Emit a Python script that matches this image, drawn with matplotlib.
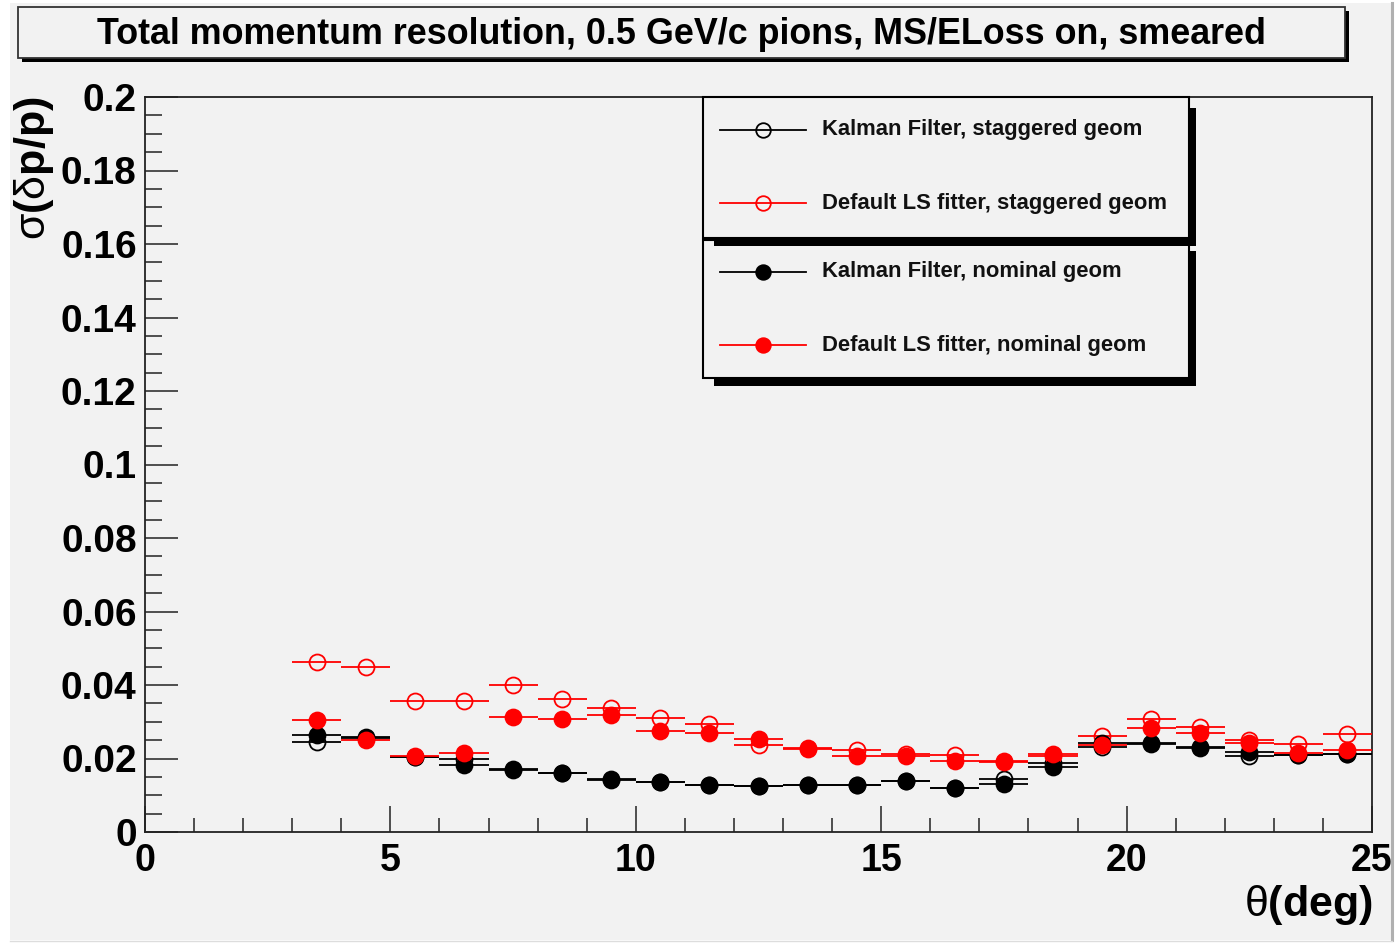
import matplotlib
matplotlib.use('Agg')
import matplotlib.pyplot as plt
from matplotlib.patches import Rectangle
from matplotlib.lines import Line2D
from matplotlib.ticker import MultipleLocator, FuncFormatter

# ---------------- data ----------------
theta_deg = [3.5, 4.5, 5.5, 6.5, 7.5, 8.5, 9.5, 10.5, 11.5, 12.5, 13.5,
             14.5, 15.5, 16.5, 17.5, 18.5, 19.5, 20.5, 21.5, 22.5, 23.5, 24.5]
bin_halfwidth = 0.5

kf_staggered = [0.0246, 0.0255, 0.0205, 0.0198, 0.0172, 0.0160, 0.0143, 0.0137,
                0.0128, 0.0125, 0.0127, 0.0128, 0.0139, 0.0119, 0.0144, 0.0189,
                0.0232, 0.0240, 0.0228, 0.0207, 0.0210, 0.0212]
ls_staggered = [0.0463, 0.0448, 0.0356, 0.0356, 0.0400, 0.0361, 0.0337, 0.0309,
                0.0294, 0.0237, 0.0225, 0.0223, 0.0212, 0.0209, 0.0192, 0.0206,
                0.0261, 0.0307, 0.0286, 0.0250, 0.0239, 0.0267]
kf_nominal = [0.0264, 0.0259, 0.0205, 0.0182, 0.0169, 0.0160, 0.0141, 0.0137,
              0.0128, 0.0125, 0.0128, 0.0128, 0.0139, 0.0119, 0.0130, 0.0178,
              0.0242, 0.0242, 0.0231, 0.0218, 0.0210, 0.0212]
ls_nominal = [0.0305, 0.0250, 0.0207, 0.0216, 0.0312, 0.0307, 0.0318, 0.0276,
              0.0269, 0.0252, 0.0228, 0.0207, 0.0207, 0.0194, 0.0191, 0.0212,
              0.0237, 0.0283, 0.0270, 0.0242, 0.0216, 0.0223]

series_labels = ["Kalman Filter, staggered geom",
                 "Default LS fitter, staggered geom",
                 "Kalman Filter, nominal geom",
                 "Default LS fitter, nominal geom"]

title_text = "Total momentum resolution, 0.5 GeV/c pions, MS/ELoss on, smeared"
x_ticks = [0, 5, 10, 15, 20, 25]
y_ticks = [0, 0.02, 0.04, 0.06, 0.08, 0.1, 0.12, 0.14, 0.16, 0.18, 0.2]

# ---------------- style ----------------
plt.rcParams['font.family'] = ['Liberation Sans', 'DejaVu Sans']
plt.rcParams['font.weight'] = 'bold'
plt.rcParams['mathtext.fontset'] = 'custom'
plt.rcParams['mathtext.rm'] = 'Liberation Sans:weight=normal'
plt.rcParams['mathtext.bf'] = 'Liberation Sans:weight=bold'

W, H = 1397, 943
BG = '#f2f2f2'


def fx(x):
    return x / W


def fy(y):
    return 1 - y / H


fig = plt.figure(figsize=(W / 100, H / 100), dpi=100, facecolor='white')

# canvas panel
fig.add_artist(Rectangle((fx(10), fy(940)), fx(1391) - fx(10), fy(3) - fy(940),
                         transform=fig.transFigure, facecolor=BG,
                         edgecolor='none', zorder=-2))
fig.add_artist(Line2D([fx(1392), fx(1392)], [fy(3), fy(940)],
                      transform=fig.transFigure, color='#b0b0b0', lw=2.2, zorder=-1))
fig.add_artist(Line2D([fx(10), fx(1392)], [fy(940.5), fy(940.5)],
                      transform=fig.transFigure, color='#dddddd', lw=1.0, zorder=-1))

ax = fig.add_axes([fx(145), fy(832), fx(1372) - fx(145), fy(97) - fy(832)])
ax.set_facecolor(BG)
ax.set_xlim(0, 25)
ax.set_ylim(0, 0.2)
for sp in ax.spines.values():
    sp.set_linewidth(1.3)
    sp.set_color('#222222')

ax.set_xticks(x_ticks)
ax.set_yticks(y_ticks)
ax.xaxis.set_minor_locator(MultipleLocator(1))
ax.yaxis.set_minor_locator(MultipleLocator(0.005))
ax.yaxis.set_major_formatter(FuncFormatter(lambda v, p: '%g' % round(v, 3)))
ax.tick_params(which='both', direction='in', top=False, right=False,
               width=1.1, color='#222222')
ax.tick_params(axis='y', which='major', length=23.5, labelsize=28, pad=6)
ax.tick_params(axis='y', which='minor', length=12)
ax.tick_params(axis='x', which='major', length=18.5, labelsize=27, pad=8)
ax.tick_params(axis='x', which='minor', length=10)
for lab in ax.get_xticklabels() + ax.get_yticklabels():
    lab.set_fontweight('bold')

styles = [
    dict(color='black', mfc='none'),
    dict(color='red', mfc='none'),
    dict(color='black', mfc='black'),
    dict(color='red', mfc='red'),
]
all_series = [kf_staggered, ls_staggered, kf_nominal, ls_nominal]
for i, (vals, st) in enumerate(zip(all_series, styles)):
    ax.errorbar(theta_deg, vals, xerr=bin_halfwidth, fmt='o', color=st['color'],
                mfc=st['mfc'], mec=st['color'], ms=11.5, mew=1.3,
                elinewidth=1.3, capsize=0, zorder=3 + i)

# axis titles
fig.text(fx(1373), fy(905), r'$\mathrm{\theta}\mathbf{(deg)}$', ha='right',
         va='center', fontsize=31)
fig.text(fx(34), fy(96), r'$\mathrm{\sigma}\mathbf{(}\mathrm{\delta}\mathbf{p/p)}$',
         rotation=90, ha='center', va='top', fontsize=31)

# title box
fig.add_artist(Rectangle((fx(22), fy(62)), fx(1349) - fx(22), fy(11) - fy(62),
                         transform=fig.transFigure, facecolor='black',
                         edgecolor='none', zorder=5))
fig.add_artist(Rectangle((fx(18), fy(58)), fx(1345) - fx(18), fy(7) - fy(58),
                         transform=fig.transFigure, facecolor=BG,
                         edgecolor='#333333', lw=1.3, zorder=5.1))
fig.text(fx(681.5), fy(34), title_text, ha='center', va='center',
         fontsize=25.8, fontweight='bold', zorder=6)


# legend boxes
def legend_box(x0, y0, x1, y1, z):
    fig.add_artist(Rectangle((fx(714), fy(y1 + 8)), fx(x1 + 7) - fx(714),
                             fy(y0 + 11) - fy(y1 + 8), transform=fig.transFigure,
                             facecolor='black', edgecolor='none', zorder=z))
    fig.add_artist(Rectangle((fx(x0), fy(y1)), fx(x1) - fx(x0), fy(y0) - fy(y1),
                             transform=fig.transFigure, facecolor=BG,
                             edgecolor='black', lw=1.5, zorder=z + 0.1))


legend_box(703, 240, 1189, 378, 6)
legend_box(703, 97, 1189, 238, 6.5)

entry_y = [130, 203, 272, 345]
for lab, yy, st in zip(series_labels, entry_y, styles):
    fig.add_artist(Line2D([fx(720), fx(806)], [fy(yy), fy(yy)],
                          transform=fig.transFigure, color=st['color'], lw=1.3,
                          zorder=8))
    fig.add_artist(Line2D([fx(763)], [fy(yy)], transform=fig.transFigure,
                          marker='o', ms=10.5, mew=1.3, mec=st['color'],
                          mfc=st['mfc'], linestyle='none', zorder=8.1))
    fig.text(fx(822), fy(yy), lab, ha='left', va='center', fontsize=15.8,
             fontweight='bold', color='#111111', zorder=9)

fig.savefig('out.png', dpi=100, facecolor='white')
